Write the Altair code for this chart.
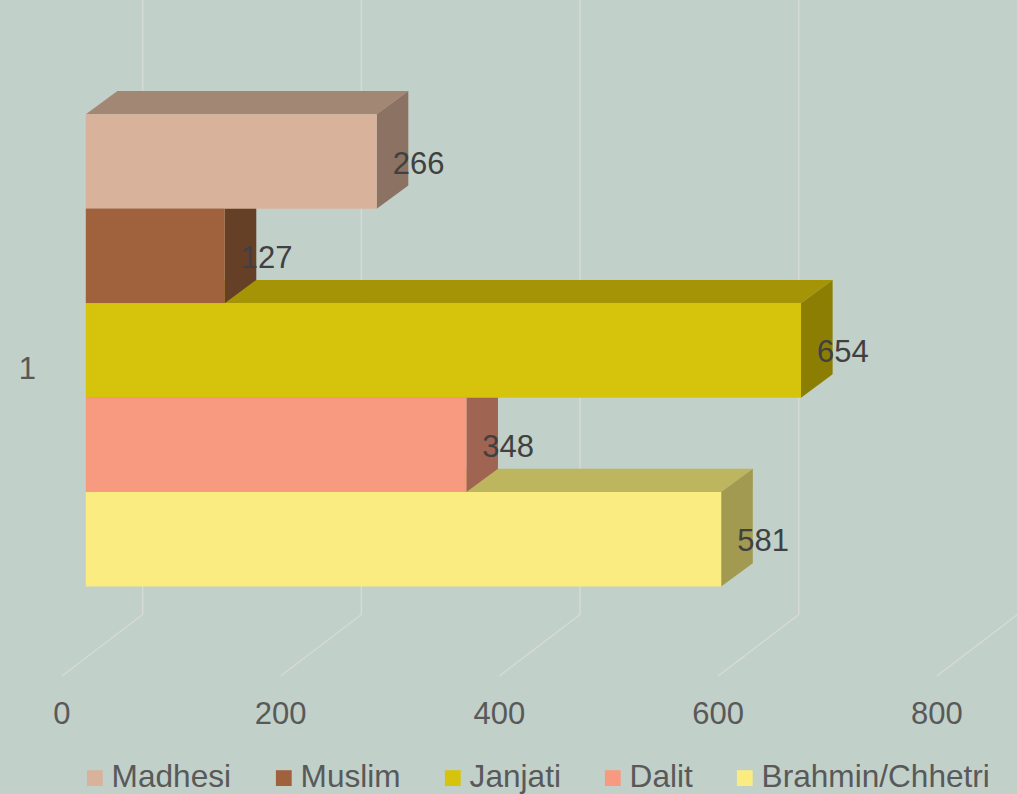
import altair as alt
import pandas as pd

# ---- data ----
categories = ["Madhesi", "Muslim", "Janjati", "Dalit", "Brahmin/Chhetri"]
values = [266, 127, 654, 348, 581]
series_label = "1"
x_ticks = [0, 200, 400, 600, 800]

# ---- styles ----
front_colors = ["#D8B29B", "#A0623D", "#D6C30C", "#F89A80", "#FAEC80"]
top_colors = ["#A38775", "#6E4429", "#A59406", "#A86A57", "#BDB65E"]
side_colors = ["#8B7262", "#663F27", "#8C7E03", "#A06452", "#A19A50"]
BG = "#C1D0C9"
GRID = "#D8DAD8"
FONT = "Liberation Sans"

# 3D geometry (in scale units)
DX = 28.9      # bar depth, x direction (value units)
DY = 0.2467    # bar depth, y direction (slot units)
WALL_DX = 52.0
WALL_Y = 5.296
FLOOR_DX = -21.8
FLOOR_Y = 5.947
LABEL_Y = 6.36

xscale = alt.Scale(domain=[-78.46, 851.5], nice=False, zero=False)
yscale = alt.Scale(domain=[-1.2101, 7.1964], nice=False, zero=False, reverse=True)

rows_front, rows_top, rows_side = [], [], []
for i, (c, v) in enumerate(zip(categories, values)):
    rows_front.append(dict(group=c, x=0, x2=v, y=i, y2=i + 1, val=v, yc=i + 0.5))
    rows_top.append(dict(group=c, y=i, x=0, x2=v, c=top_colors[i]))
    rows_top.append(dict(group=c, y=i - DY, x=DX, x2=v + DX, c=top_colors[i]))
    rows_side.append(dict(group=c, x=v, y=i, y2=i + 1, c=side_colors[i]))
    rows_side.append(dict(group=c, x=v + DX, y=i - DY, y2=i + 1 - DY, c=side_colors[i]))

df_front = pd.DataFrame(rows_front)
df_top = pd.DataFrame(rows_top)
df_side = pd.DataFrame(rows_side)
df_ticks = pd.DataFrame({"t": x_ticks})

grid_wall = alt.Chart(df_ticks).transform_calculate(
    gx=f"datum.t + {WALL_DX}", y0="-1.2101", y1=f"{WALL_Y}"
).mark_rule(color=GRID, strokeWidth=1.4).encode(
    x=alt.X("gx:Q", scale=xscale, axis=None),
    y=alt.Y("y0:Q", scale=yscale, axis=None),
    y2="y1:Q",
)
grid_floor = alt.Chart(df_ticks).transform_calculate(
    gx=f"datum.t + {WALL_DX}", gx2=f"datum.t + {FLOOR_DX}",
    y0=f"{WALL_Y}", y1=f"{FLOOR_Y}"
).mark_rule(color=GRID, strokeWidth=1.4).encode(
    x=alt.X("gx:Q", scale=xscale, axis=None),
    x2="gx2:Q",
    y=alt.Y("y0:Q", scale=yscale, axis=None),
    y2="y1:Q",
)
tick_labels = alt.Chart(df_ticks).transform_calculate(
    lx=f"datum.t + {FLOOR_DX}", ly=f"{LABEL_Y}"
).mark_text(fontSize=31, font=FONT, color="#595959", align="center", baseline="middle").encode(
    x=alt.X("lx:Q", scale=xscale, axis=None),
    y=alt.Y("ly:Q", scale=yscale, axis=None),
    text=alt.Text("t:Q"),
)

tops = alt.Chart(df_top).mark_area(orient="horizontal").encode(
    y=alt.Y("y:Q", scale=yscale, axis=None),
    x=alt.X("x:Q", scale=xscale, axis=None, stack=None),
    x2="x2:Q",
    detail="group:N",
    fill=alt.Fill("c:N", scale=None),
)
sides = alt.Chart(df_side).mark_area(orient="vertical").encode(
    x=alt.X("x:Q", scale=xscale, axis=None),
    y=alt.Y("y:Q", scale=yscale, axis=None, stack=None),
    y2="y2:Q",
    detail="group:N",
    fill=alt.Fill("c:N", scale=None),
)
fronts = alt.Chart(df_front).mark_rect().encode(
    x=alt.X("x:Q", scale=xscale, axis=None),
    x2="x2:Q",
    y=alt.Y("y:Q", scale=yscale, axis=None),
    y2="y2:Q",
    color=alt.Color(
        "group:N",
        scale=alt.Scale(domain=categories, range=front_colors),
        legend=alt.Legend(
            orient="none", legendX=79, legendY=762, direction="horizontal",
            title=None, symbolType="square", symbolSize=250, symbolStrokeWidth=0,
            labelFontSize=31.6, labelFont=FONT, labelColor="#595959", labelLimit=0,
            columnPadding=36, labelOffset=1, padding=0,
        ),
    ),
)
value_labels = alt.Chart(df_front).mark_text(
    fontSize=31, font=FONT, color="#404040", align="left", baseline="middle", dx=16, dy=3
).encode(
    x=alt.X("x2:Q", scale=xscale, axis=None),
    y=alt.Y("yc:Q", scale=yscale, axis=None),
    text=alt.Text("val:Q"),
)
df_series = pd.DataFrame({"s": [series_label]})
series_text = alt.Chart(df_series).transform_calculate(
    sx="-53.5", sy="2.71"
).mark_text(fontSize=31, font=FONT, color="#595959", align="center", baseline="middle").encode(
    x=alt.X("sx:Q", scale=xscale, axis=None),
    y=alt.Y("sy:Q", scale=yscale, axis=None),
    text="s:N",
)

chart = alt.layer(
    grid_wall, grid_floor, tick_labels, tops, sides, fronts, value_labels, series_text
).properties(
    width=1017, height=794, padding=0, autosize="none", background=BG
).configure_view(stroke=None)

chart.save("out.html", embed_options={"renderer": "svg", "actions": False})
